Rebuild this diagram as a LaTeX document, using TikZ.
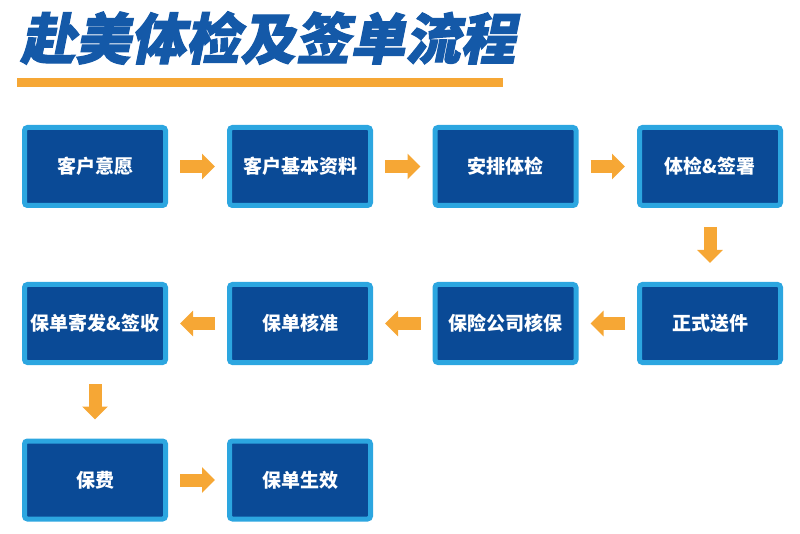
\documentclass[tikz,border=0pt]{standalone}
\usepackage{fontspec}
\setmainfont{Noto Sans CJK SC}
\newfontfamily\titlecjk[FakeSlant=0.2,FakeBold=2]{Noto Sans CJK SC}
\usetikzlibrary{arrows.meta}
\definecolor{boxblue}{HTML}{0A4A96}
\definecolor{rimblue}{HTML}{2CA6E0}
\definecolor{titleblue}{HTML}{1459A8}
\definecolor{arroworange}{HTML}{F6A735}
\tikzset{
  stepbox/.style={fill=boxblue, draw=rimblue, line width=5pt, rounded corners=3pt,
    minimum width=141pt, minimum height=78pt, inner sep=0pt,
    text=white, font=\bfseries\fontsize{19}{19}\selectfont},
  fatarrow/.style={draw=arroworange, line width=13pt,
    -{Triangle[width=25pt,length=13pt]}, shorten <=12pt, shorten >=12pt},
  downarrow/.style={shorten <=19pt, shorten >=19pt}
}
\begin{document}
\begin{tikzpicture}[x=1pt,y=-1pt]
      \useasboundingbox (0,0) rectangle (800,534);
      \node[anchor=west, inner sep=0pt, text=titleblue,
        font=\titlecjk\bfseries\fontsize{55}{55}\selectfont] (title) at (20,38) {赴美体检及签单流程};
      \fill[arroworange] (17,78) rectangle (503,87);
      \draw
        (95,166.5) node[stepbox] (0){客户意愿}
        (300,166.5) node[stepbox] (1){客户基本资料}
        (505.5,166.5) node[stepbox] (2){安排体检}
        (710,166.5) node[stepbox] (3){体检\&签署}
        (710,323.5) node[stepbox] (4){正式送件}
        (505.5,323.5) node[stepbox] (5){保险公司核保}
        (300,323.5) node[stepbox] (6){保单核准}
        (95,323.5) node[stepbox] (7){保单寄发\&签收}
        (95,480) node[stepbox] (8){保费}
        (300,480) node[stepbox] (9){保单生效};
      \begin{scope}[fatarrow]
        \draw (0) to (1);
        \draw (1) to (2);
        \draw (2) to (3);
        \draw[downarrow] (3) to (4);
        \draw (4) to (5);
        \draw (5) to (6);
        \draw (6) to (7);
        \draw[downarrow] (7) to (8);
        \draw (8) to (9);
      \end{scope}
    \end{tikzpicture}
\end{document}
